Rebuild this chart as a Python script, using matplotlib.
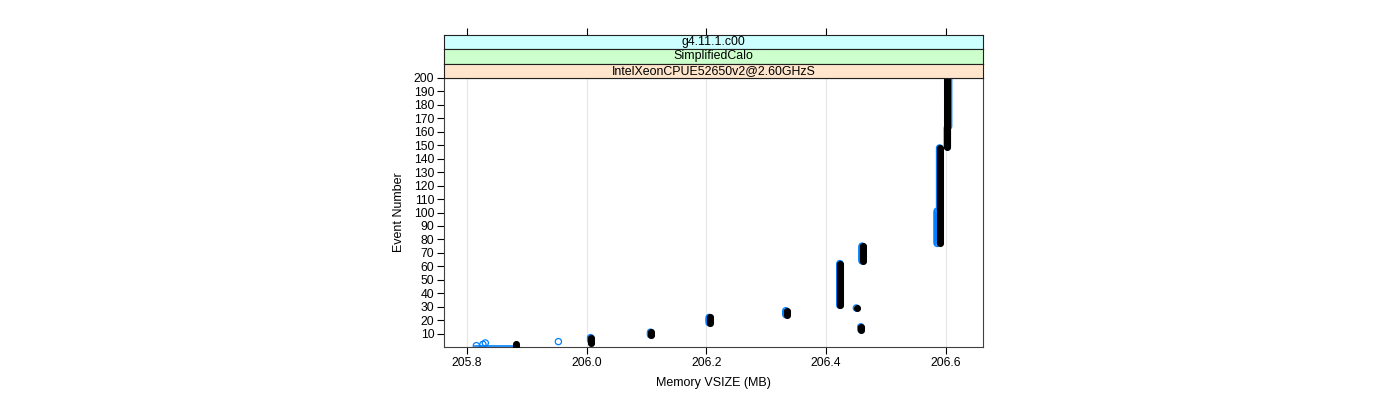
import numpy as np
import matplotlib
matplotlib.use("Agg")
import matplotlib.pyplot as plt

plt.rcParams['font.family'] = ['Liberation Sans', 'DejaVu Sans']

# ---- data (runs of consecutive events sharing a memory value) ----
black_mem = [205.883, 206.008, 206.108, 206.459, 206.206, 206.334, 206.451,
             206.424, 206.461, 206.5895, 206.5905, 206.6025]
black_first = [1, 3, 9, 13, 18, 24, 29, 31, 64, 77, 90, 149]
black_last = [2, 7, 11, 15, 22, 27, 29, 62, 75, 89, 148, 200]

blue_mem = [205.816, 205.827, 205.831, 205.953, 206.0068, 206.1068, 206.4580,
            206.2048, 206.3328, 206.4505, 206.4230, 206.4600, 206.5855,
            206.5895, 206.6025, 206.6045]
blue_first = [1, 2, 3, 4, 5, 9, 13, 18, 24, 29, 31, 64, 77, 102, 149, 164]
blue_last = [1, 2, 3, 4, 7, 11, 15, 22, 27, 29, 62, 75, 101, 148, 163, 200]

blue_line_x = [205.813, 205.883]
blue_line_y = [0.6, 0.6]

x_ticks = [205.8, 206.0, 206.2, 206.4, 206.6]
x_tick_labels = ["205.8", "206.0", "206.2", "206.4", "206.6"]
y_ticks = list(range(10, 201, 10))

strip_labels = ["g4.11.1.c00", "SimplifiedCalo", "IntelXeonCPUE52650v2@2.60GHzS"]
strip_colors = ["#ccffff", "#ccffcc", "#ffe5cc"]

xlabel = "Memory VSIZE (MB)"
ylabel = "Event Number"


def expand(mem, first, last):
    xs, ys = [], []
    for m, a, b in zip(mem, first, last):
        ev = np.arange(a, b + 1)
        xs.extend([m] * len(ev))
        ys.extend(ev)
    return np.array(xs), np.array(ys)


bx, by = expand(black_mem, black_first, black_last)
ux, uy = expand(blue_mem, blue_first, blue_last)

W, H = 1400, 400
fig = plt.figure(figsize=(W / 100, H / 100), dpi=100)

L, R, T, B = 444, 983, 78, 347
ax = fig.add_axes([L / W, 1 - B / H, (R - L) / W, (B - T) / H])
xlim = (205.762, 206.662)
ax.set_xlim(*xlim)
ax.set_ylim(0, 200)

for xt in x_ticks:
    ax.axvline(xt, color="#e6e6e6", lw=0.8, zorder=0)

ax.plot(blue_line_x, blue_line_y, color="#0080ff", lw=1.2, zorder=2)
ax.scatter(ux, uy, s=20, facecolors="none", edgecolors="#0080ff",
           linewidths=0.9, zorder=2)
ax.scatter(bx, by, s=26, color="black", linewidths=0, zorder=3)

ax.set_xticks(x_ticks)
ax.set_xticklabels(x_tick_labels, fontsize=8.7)
ax.set_yticks(y_ticks)
ax.set_yticklabels([str(v) for v in y_ticks], fontsize=8.7)
ax.tick_params(axis="both", direction="out", length=5, width=0.8,
               colors="black", pad=2)
ax.tick_params(top=False, right=False)
for sp in ax.spines.values():
    sp.set_linewidth(0.8)
    sp.set_color("#404040")
ax.set_xlabel(xlabel, fontsize=9, labelpad=6)
ax.set_ylabel(ylabel, fontsize=9, labelpad=6)

# strips
strip_tops = [35, 49, 64]
strip_bots = [49, 64, 78]
for i, (lab, col) in enumerate(zip(strip_labels, strip_colors)):
    t, b = strip_tops[i], strip_bots[i]
    sax = fig.add_axes([L / W, 1 - b / H, (R - L) / W, (b - t) / H])
    sax.set_facecolor(col)
    sax.set_xlim(*xlim)
    sax.set_ylim(0, 1)
    sax.set_yticks([])
    if i == 0:
        sax.set_xticks(x_ticks)
        sax.tick_params(axis="x", which="both", bottom=False, labelbottom=False,
                        top=True, labeltop=False, direction="out", length=5,
                        width=0.8)
    else:
        sax.set_xticks([])
    for sp in sax.spines.values():
        sp.set_linewidth(0.8)
        sp.set_color("#202020")
    sax.text(0.5, 0.5, lab, transform=sax.transAxes, ha="center",
             va="center", fontsize=8.9)

fig.savefig("out.png", dpi=100)
